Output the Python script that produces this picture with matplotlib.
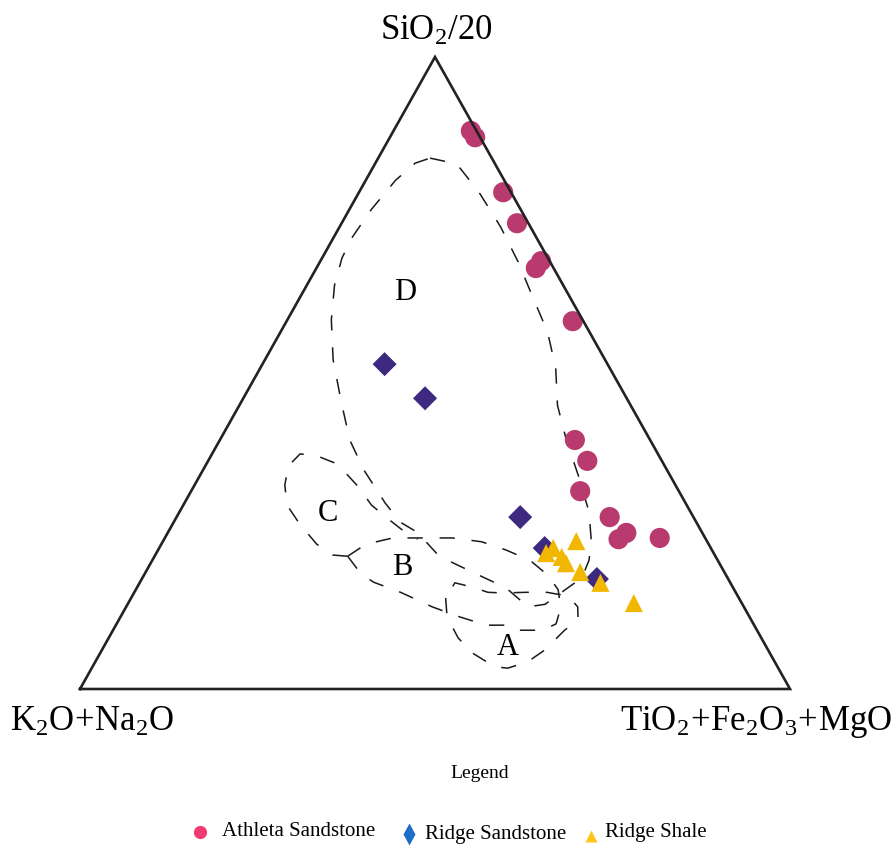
import matplotlib.pyplot as plt
from matplotlib.lines import Line2D

plt.rcParams['font.family'] = ['Liberation Serif', 'DejaVu Serif']
plt.rcParams['mathtext.fontset'] = 'custom'
plt.rcParams['mathtext.rm'] = 'Liberation Serif'
plt.rcParams['mathtext.it'] = 'Liberation Serif:italic'

# compositions in % : S = SiO2/20, T = TiO2+Fe2O3+MgO  (K2O+Na2O = 100 - S - T)
athleta_S = [88.3, 87.3, 78.6, 73.7, 67.7, 66.6, 58.2, 39.4, 36.1, 31.3, 27.2, 24.7, 23.7, 23.9]
athleta_T = [10.9, 12.0, 20.3, 24.7, 31.1, 30.9, 40.3, 50.0, 53.4, 54.8, 61.0, 64.6, 64.0, 69.7]

ridge_sst_S = [51.4, 46.0, 27.2, 22.3, 17.4]
ridge_sst_T = [17.2, 25.6, 48.4, 54.3, 64.1]

ridge_shale_S = [23.4, 22.3, 21.5, 20.9, 19.9, 18.5, 16.8, 13.6]
ridge_shale_T = [58.2, 55.5, 54.9, 57.4, 58.5, 61.2, 64.9, 71.2]

# tectonic setting fields (S, T)
field_D = [(84.0, 7.3), (83.1, 11.5), (78.6, 16.9), (73.1, 22.7), (67.6, 27.9), (62.2, 32.6),
           (56.5, 37.6), (50.8, 41.6), (44.9, 44.8), (39.4, 48.8), (33.4, 53.6), (28.0, 57.7),
           (23.6, 60.2), (20.4, 61.5), (17.6, 61.9), (16.0, 60.7), (13.4, 58.8), (13.0, 56.6),
           (16.0, 52.0), (18.5, 46.0), (21.0, 40.1), (24.8, 35.1), (26.4, 31.9), (29.4, 28.3),
           (34.7, 22.6), (39.4, 18.3), (45.4, 14.1), (52.1, 9.6), (58.4, 6.2), (63.9, 3.9),
           (68.2, 2.8), (71.4, 2.6), (75.9, 3.1), (80.5, 4.2), (83.2, 5.6), (84.0, 7.3)]
field_C = [(21.0, 27.2), (21.2, 25.0), (22.9, 21.9), (26.1, 17.9), (29.1, 14.6), (32.3, 12.7),
           (35.3, 11.7), (37.2, 12.4), (36.9, 14.9), (35.8, 17.9), (33.9, 20.7), (32.0, 23.2),
           (29.1, 26.5), (26.7, 30.3), (24.8, 33.4), (23.7, 35.7)]
field_B = [(21.0, 27.2), (22.9, 28.8), (23.9, 32.1), (23.9, 36.0), (23.9, 40.5), (23.3, 44.9),
           (22.0, 49.0), (20.3, 53.3), (18.0, 56.9), (15.7, 59.5), (12.8, 61.3), (10.3, 61.9),
           (9.3, 60.5), (9.3, 56.6), (10.1, 54.8), (10.1, 52.2), (11.4, 47.8), (13.0, 43.1),
           (15.3, 37.5), (16.9, 32.9), (18.2, 30.5), (21.0, 27.2)]
field_A = [(14.4, 44.3), (11.4, 46.0), (8.1, 49.2), (5.7, 52.4), (3.5, 56.7), (3.3, 58.6),
           (4.3, 60.9), (6.2, 62.4), (9.3, 63.6), (10.9, 64.7), (13.0, 63.6), (14.7, 61.4),
           (15.3, 58.1), (15.3, 55.3), (15.2, 52.0), (15.3, 49.8), (16.1, 47.3), (16.8, 44.4),
           (14.4, 44.3)]
field_names = ['D', 'C', 'B', 'A']
field_label_S = [62.7, 27.8, 19.3, 6.5]
field_label_T = [14.4, 21.0, 35.7, 57.0]


def tern(S, T):
    # ternary -> cartesian (x along base, y height fraction)
    S = [s / 100 for s in S]
    T = [t / 100 for t in T]
    x = [t + 0.5 * s for s, t in zip(S, T)]
    return x, S


fig = plt.figure(figsize=(8.95, 8.47), dpi=100)
ax = fig.add_axes([80 / 895, 158 / 847, 710 / 895, 632 / 847])
ax.set_xlim(0, 1)
ax.set_ylim(0, 1)
ax.axis('off')

# fields
for f in [field_D, field_C, field_B, field_A]:
    x, y = tern([p[0] for p in f], [p[1] for p in f])
    ax.plot(x, y, color='#1a1a1a', lw=1.1, dashes=(10, 11), zorder=1, clip_on=False)

for name, s, t in zip(field_names, field_label_S, field_label_T):
    x, y = tern([s], [t])
    ax.text(x[0], y[0], name, fontsize=22, ha='center', va='center', zorder=2)

# outline
ax.plot([0, 1, 0.5, 0], [0, 0, 1, 0], color='#222222', lw=1.9, zorder=5,
        solid_joinstyle='miter', clip_on=False)

x, y = tern(athleta_S, athleta_T)
ax.scatter(x, y, s=210, marker='o', color='#b93a6e', edgecolors='none', zorder=3, clip_on=False)
x, y = tern(ridge_sst_S, ridge_sst_T)
ax.scatter(x, y, s=150, marker='D', color='#3d2a80', edgecolors='none', zorder=3, clip_on=False)
x, y = tern(ridge_shale_S, ridge_shale_T)
ax.scatter(x, y, s=170, marker='^', color='#f2b700', edgecolors='none', zorder=4, clip_on=False)

# apex labels
fig.text(436 / 895, 1 - 31 / 847, r'$\mathrm{SiO_2/20}$', fontsize=25, ha='center', va='center')
fig.text(92 / 895, 1 - 722 / 847, r'$\mathrm{K_2O\!+\!Na_2O}$', fontsize=25, ha='center', va='center')
fig.text(756 / 895, 1 - 722 / 847, r'$\mathrm{TiO_2\!+\!Fe_2O_3\!+\!MgO}$', fontsize=25,
         ha='center', va='center')

# legend
fig.text(480 / 895, 1 - 773 / 847, 'Legend', fontsize=14, ha='center', va='center')
fig.add_artist(Line2D([200 / 895], [1 - 832 / 847], marker='o', ms=9.5, color='#f03a72',
                      mec='none', transform=fig.transFigure))
fig.text(222 / 895, 1 - 831 / 847, 'Athleta Sandstone', fontsize=15, ha='left', va='center')
fig.add_artist(Line2D([409 / 895], [1 - 834 / 847], marker='d', ms=11, color='#1e6ec8',
                      mec='none', transform=fig.transFigure))
fig.text(425 / 895, 1 - 834 / 847, 'Ridge Sandstone', fontsize=15, ha='left', va='center')
fig.add_artist(Line2D([591 / 895], [1 - 836 / 847], marker='^', ms=9, color='#ffc61a',
                      mec='none', transform=fig.transFigure))
fig.text(605 / 895, 1 - 832 / 847, 'Ridge Shale', fontsize=15, ha='left', va='center')

plt.savefig('out.png', dpi=100)
